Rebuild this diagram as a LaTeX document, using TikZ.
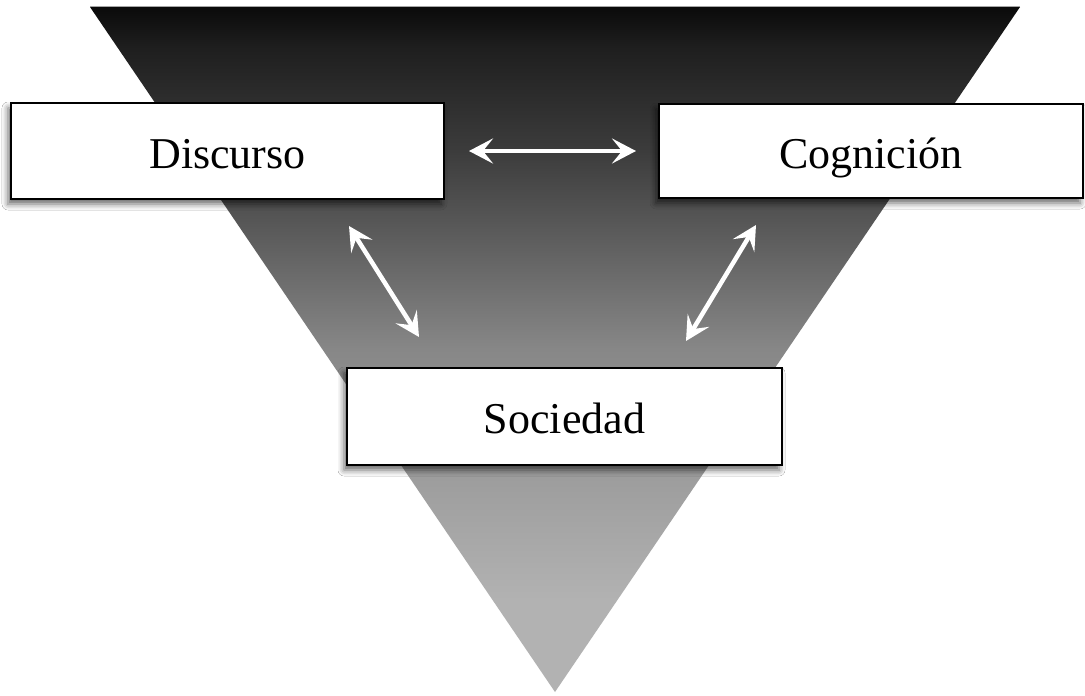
\documentclass[tikz,border=0pt]{standalone}
\usepackage{fontspec}
\setmainfont{Liberation Serif}
\usetikzlibrary{arrows.meta,shadows.blur,calc}
\pgfdeclareverticalshading{trishade}{100bp}{rgb(0bp)=(0.70,0.70,0.70); rgb(25bp)=(0.70,0.70,0.70); rgb(31.5bp)=(0.70,0.70,0.70); rgb(50bp)=(0.53,0.53,0.53); rgb(64.5bp)=(0.235,0.235,0.235); rgb(72bp)=(0.12,0.12,0.12); rgb(75bp)=(0.04,0.04,0.04); rgb(100bp)=(0.04,0.04,0.04)}
\begin{document}
\begin{tikzpicture}[x=1pt,y=-1pt,
  box/.style={draw=black, line width=2pt, fill=white, inner sep=0pt,
    font=\fontsize{44}{50}\selectfont, text height=44pt, text depth=10pt,
    blur shadow={shadow xshift=-3pt, shadow yshift=-5pt, shadow blur radius=6pt, shadow opacity=60}},
  link/.style={white, line width=4.5pt, {Stealth[length=24pt,width=25pt,inset=10pt]}-{Stealth[length=24pt,width=25pt,inset=10pt]}}]
\useasboundingbox (0,0) rectangle (1085,696);
\fill[white] (0,0) rectangle (1085,696);
% inverted triangle
\shade[shading=trishade] (90,7) -- (1020,7) -- (555,692) -- cycle;
\draw[gray!70, line width=1.5pt] (90,6.5) -- (1020,6.5);
% boxes
\node[box, minimum width=433pt, minimum height=96pt] (dis) at (227.5,151) {Discurso};
\node[box, minimum width=424pt, minimum height=94pt] (cog) at (871,151) {Cognición};
\node[box, minimum width=435pt, minimum height=97pt] (soc) at (564.5,416.5) {Sociedad};
% connector ends
\coordinate (d1) at ($(dis.south east)+(-96,26)$);
\coordinate (s1) at ($(soc.north west)+(73,-30)$);
\coordinate (c1) at ($(cog.south west)+(98,26)$);
\coordinate (s2) at ($(soc.north east)+(-97,-26)$);
% arrows
\draw[link, shorten <=24pt, shorten >=22pt] (dis.east) -- (cog.west);
\draw[link] (d1) -- (s1);
\draw[link] (c1) -- (s2);
\end{tikzpicture}
\end{document}
